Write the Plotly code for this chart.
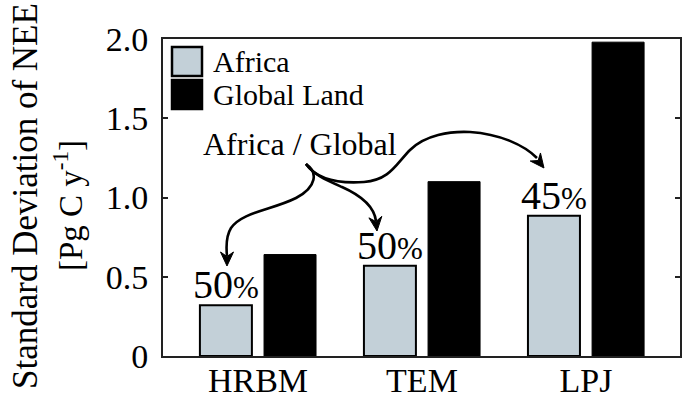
import math
import plotly.graph_objects as go

# ---------------- data ----------------
models = ["HRBM", "TEM", "LPJ"]
africa_sd = [0.32, 0.57, 0.885]
global_sd = [0.64, 1.10, 1.98]
ratio_labels = ["50", "50", "45"]
series_names = ["Africa", "Global Land"]
y_tick_vals = [0, 0.5, 1.0, 1.5, 2.0]
y_tick_text = ["0", "0.5", "1.0", "1.5", "2.0"]

# ---------------- style ----------------
FONT = "Liberation Serif, Times New Roman, serif"
AFRICA_COLOR = "#c3d0d8"
GLOBAL_COLOR = "#000000"
W, H = 685, 404
L, R, T, B = 163, 680, 39, 356  # plot area in pixels


def pp(x, y):
    """pixel -> paper coordinates"""
    return (x - L) / (R - L), (B - y) / (B - T)


def path_str(cmds):
    s = []
    for c, pts in cmds:
        s.append(c + " " + " ".join("%.5f,%.5f" % pp(*p) for p in pts))
    return " ".join(s)


def head(tip, frm, ln=14, hw=6.5, notch=4.5):
    dx, dy = tip[0] - frm[0], tip[1] - frm[1]
    d = math.hypot(dx, dy)
    ux, uy = dx / d, dy / d
    nx, ny = -uy, ux
    bx, by = tip[0] - ux * ln, tip[1] - uy * ln
    left = (bx + nx * hw, by + ny * hw)
    right = (bx - nx * hw, by - ny * hw)
    nt = (tip[0] - ux * (ln - notch), tip[1] - uy * (ln - notch))
    return path_str([("M", [tip]), ("L", [left]), ("L", [nt]), ("L", [right])]) + " Z"


fig = go.Figure()
fig.add_trace(go.Bar(
    x=models, y=africa_sd, name=series_names[0],
    offset=-0.354, width=0.317,
    marker=dict(color=AFRICA_COLOR, line=dict(color="#000000", width=2)),
    showlegend=False,
))
fig.add_trace(go.Bar(
    x=models, y=global_sd, name=series_names[1],
    offset=0.037, width=0.317,
    marker=dict(color=GLOBAL_COLOR, line=dict(color="#000000", width=1)),
    showlegend=False,
))

shapes = []
annotations = []

# manual legend
for i, (name, col) in enumerate(zip(series_names, [AFRICA_COLOR, GLOBAL_COLOR])):
    y0 = 47 + i * 33
    x0p, y0p = pp(172, y0)
    x1p, y1p = pp(202, y0 + 29)
    shapes.append(dict(type="rect", xref="paper", yref="paper",
                       x0=x0p, x1=x1p, y0=y1p, y1=y0p,
                       fillcolor=col, line=dict(color="#000000", width=2.5)))
    tx, ty = pp(211, y0 + 14.5)
    annotations.append(dict(text=name, xref="paper", yref="paper", x=tx, y=ty,
                            xanchor="left", yanchor="middle", showarrow=False,
                            font=dict(family=FONT, size=30, color="#000000")))

# percentage labels
for i, (m, a) in enumerate(zip(models, africa_sd)):
    annotations.append(dict(
        text=ratio_labels[i] + "<span style='font-size:31px'>%</span>",
        x=i - 0.195, xref="x", y=a, yref="y", xanchor="center", yanchor="bottom",
        yshift=-4, showarrow=False,
        font=dict(family=FONT, size=40, color="#000000")))

# "Africa / Global" label
ax, ay = pp(300, 144)
annotations.append(dict(text="Africa / Global", xref="paper", yref="paper", x=ax, y=ay,
                        xanchor="center", yanchor="middle", showarrow=False,
                        font=dict(family=FONT, size=32, color="#000000")))

# curved arrows
line_style = dict(color="#000000", width=2.6)
branch_a = [("M", [(306, 164)]),
            ("C", [(318, 172), (317, 187), (296, 198)]),
            ("C", [(272, 210), (242, 212), (231, 228)]),
            ("C", [(226, 236), (226, 246), (227, 256)])]
branch_b = [("M", [(306, 164)]),
            ("C", [(314, 175), (326, 180), (342, 187)]),
            ("C", [(360, 195), (374, 205), (376, 221)])]
branch_c = [("M", [(306, 164)]),
            ("C", [(316, 178), (336, 184), (364, 182)]),
            ("C", [(390, 180), (396, 164), (410, 150)]),
            ("C", [(425, 135), (450, 131), (470, 132)]),
            ("C", [(500, 134), (524, 145), (537, 158)])]
for br in (branch_a, branch_b, branch_c):
    shapes.append(dict(type="path", xref="paper", yref="paper",
                       path=path_str(br), line=line_style))
for tip, frm in [((227, 266), (227, 250)), ((377, 231), (375, 214)), ((544, 168), (533, 154))]:
    shapes.append(dict(type="path", xref="paper", yref="paper", path=head(tip, frm),
                       fillcolor="#000000", line=dict(color="#000000", width=1)))

# y-axis title (two lines)
t1x, t1y = pp(25, 196)
t2x, t2y = pp(68, 206)
annotations.append(dict(text="Standard Deviation of NEE", xref="paper", yref="paper",
                        x=t1x, y=t1y, xanchor="center", yanchor="middle", textangle=-90,
                        showarrow=False, font=dict(family=FONT, size=35, color="#000000")))
annotations.append(dict(text="[Pg C y<sup>-1</sup>]", xref="paper", yref="paper",
                        x=t2x, y=t2y, xanchor="center", yanchor="middle", textangle=-90,
                        showarrow=False, font=dict(family=FONT, size=33, color="#000000")))

fig.update_layout(
    width=W, height=H,
    margin=dict(l=L, r=W - R, t=T, b=H - B, pad=0, autoexpand=False),
    paper_bgcolor="#ffffff", plot_bgcolor="#ffffff",
    barmode="overlay",
    shapes=shapes, annotations=annotations,
    font=dict(family=FONT, color="#000000"),
)
fig.update_xaxes(
    type="category", range=[-0.579, 2.573], automargin=False,
    showline=True, linecolor="#222222", linewidth=2, mirror=True,
    ticks="", showgrid=False, zeroline=False,
    ticklabelstandoff=-7,
    tickfont=dict(family=FONT, size=34, color="#000000"),
)
fig.update_yaxes(
    range=[0, 2.0], tickvals=y_tick_vals, ticktext=y_tick_text, automargin=False,
    showline=True, linecolor="#222222", linewidth=2, mirror="ticks",
    ticks="inside", ticklen=5, tickwidth=2, tickcolor="#222222",
    ticklabelstandoff=6,
    showgrid=False, zeroline=False,
    tickfont=dict(family=FONT, size=34, color="#000000"),
)

fig.write_html(
    "out.html",
    config={"displayModeBar": False},
    post_script="document.body.style.margin='0';document.body.style.overflow='hidden';",
)
